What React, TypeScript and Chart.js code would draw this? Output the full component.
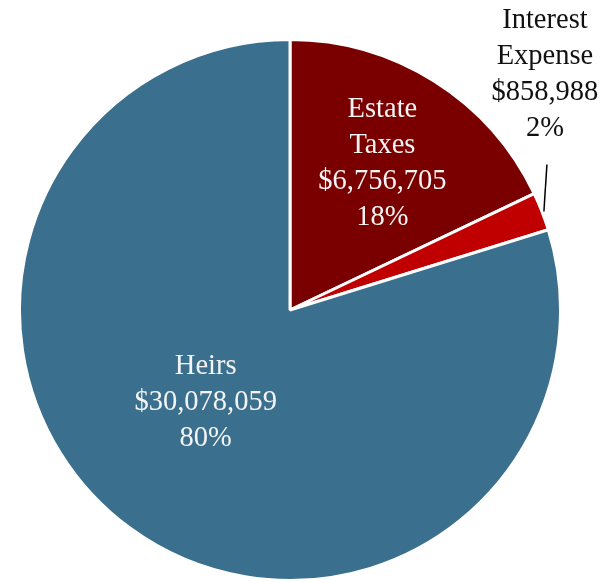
import React, { useEffect, useRef } from "react";
import { Chart, registerables } from "chart.js";

Chart.register(...registerables);

const categories: string[][] = [["Estate", "Taxes"], ["Interest", "Expense"], ["Heirs"]];
const values: number[] = [6756705, 858988, 30078059];
const valueLabels: string[] = ["$6,756,705", "$858,988", "$30,078,059"];
const percentLabels: string[] = ["18%", "2%", "80%"];
const colors: string[] = ["#7A0000", "#C00000", "#3B6F8E"];

const FONT = '28.5px "Liberation Serif", "DejaVu Serif", serif';

const labelPlugin = {
  id: "sliceLabels",
  afterDatasetsDraw(chart: any) {
    const ctx = chart.ctx;
    const meta = chart.getDatasetMeta(0);
    ctx.save();
    ctx.font = FONT;
    ctx.textAlign = "center";
    ctx.textBaseline = "middle";
    const lineH = 36;
    meta.data.forEach((arc: any, i: number) => {
      const { x, y, startAngle, endAngle, outerRadius } = arc.getProps(
        ["x", "y", "startAngle", "endAngle", "outerRadius"],
        true
      );
      const mid = (startAngle + endAngle) / 2;
      const lines = [...categories[i], valueLabels[i], percentLabels[i]];
      if (i === 1) {
        const ex = x + Math.cos(mid) * outerRadius;
        const ey = y + Math.sin(mid) * outerRadius;
        ctx.strokeStyle = "#000";
        ctx.lineWidth = 1.5;
        ctx.beginPath();
        ctx.moveTo(ex + 2, ey);
        ctx.lineTo(ex + 5, ey - 47);
        ctx.stroke();
        ctx.fillStyle = "#111";
        const cx = ex + 3;
        const bottom = ey - 83;
        lines.forEach((t, k) => {
          ctx.fillText(t, cx, bottom - (lines.length - 1 - k) * lineH);
        });
      } else {
        const frac = i === 0 ? 0.64 : 0.46;
        const ang = i === 0 ? mid : mid + 0.11;
        const cx = x + Math.cos(ang) * outerRadius * frac;
        const cy = y + Math.sin(ang) * outerRadius * frac + (i === 2 ? 1 : 0);
        ctx.fillStyle = "#f4f4f4";
        const start = cy - ((lines.length - 1) * lineH) / 2;
        lines.forEach((t, k) => ctx.fillText(t, cx, start + k * lineH));
      }
    });
    ctx.restore();
  },
};

export default function App() {
  const ref = useRef<HTMLCanvasElement | null>(null);
  useEffect(() => {
    if (!ref.current) return;
    const chart = new Chart(ref.current, {
      type: "pie",
      data: {
        labels: categories.map((c) => c.join(" ")),
        datasets: [
          {
            data: values,
            backgroundColor: colors,
            borderColor: "#ffffff",
            borderWidth: 3,
          },
        ],
      },
      options: {
        responsive: false,
        animation: false,
        layout: { padding: { left: 15, right: 46, top: 38, bottom: -6 } },
        plugins: {
          legend: { display: false },
          tooltip: { enabled: false },
          title: { display: false },
        },
      },
      plugins: [labelPlugin],
    });
    return () => chart.destroy();
  }, []);
  return (
    <div style={{ position: "fixed", left: 0, top: 0, width: 611, height: 582, background: "#fff" }}>
      <canvas ref={ref} width={611} height={582} style={{ width: 611, height: 582 }} />
    </div>
  );
}
